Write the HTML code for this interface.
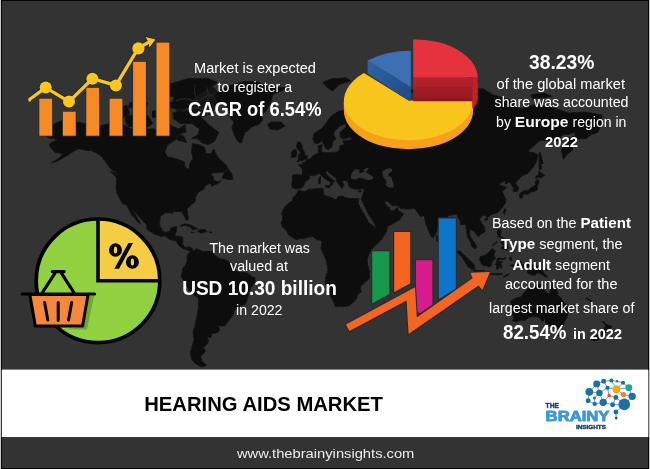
<!DOCTYPE html>
<html>
<head>
<meta charset="utf-8">
<title>Hearing Aids Market</title>
<style>
html,body{margin:0;padding:0;}
body{width:650px;height:469px;overflow:hidden;background:#333333;font-family:"Liberation Sans",sans-serif;}
#page{position:relative;width:650px;height:469px;overflow:hidden;background:#333333;}
#gfx{position:absolute;left:0;top:0;}
</style>
</head>
<body>
<div id="page">
<svg id="gfx" width="650" height="469" viewBox="0 0 650 469">
<defs>
<linearGradient id="redside" x1="0" y1="0" x2="0" y2="1">
<stop offset="0" stop-color="#b8242e"/>
<stop offset="1" stop-color="#8e1820"/>
</linearGradient>
<linearGradient id="blueside" x1="0" y1="0" x2="1" y2="1">
<stop offset="0" stop-color="#2f63a6"/>
<stop offset="1" stop-color="#1f4a84"/>
</linearGradient>
<filter id="soft" x="-2%" y="-2%" width="104%" height="104%"><feGaussianBlur stdDeviation="0.4"/></filter>
</defs>
<rect x="0" y="0" width="650" height="469" fill="#333333"/>
<g filter="url(#soft)">
<g id="map" stroke-linejoin="round">
<path d="M46.0,135.9 L49.2,128.2 L55.7,123.3 L64.5,119.4 L75.0,121.8 L89.4,124.4 L99.1,126.2 L110.4,123.3 L123.3,124.7 L131.4,129.0 L142.8,129.0 L152.6,129.0 L162.3,130.4 L165.6,118.8 L172.1,126.2 L178.6,129.0 L185.1,124.7 L185.9,131.8 L178.6,134.5 L175.3,139.9 L167.2,145.0 L164.8,152.4 L168.0,157.2 L175.3,158.4 L184.2,161.8 L185.1,167.4 L189.1,169.6 L190.0,163.0 L193.2,158.4 L191.6,152.4 L192.4,143.7 L199.8,145.0 L204.7,147.5 L205.5,153.6 L211.2,153.6 L213.7,149.3 L218.6,158.4 L225.1,164.1 L228.1,168.5 L222.7,172.4 L212.9,172.9 L209.6,174.4 L212.9,176.0 L213.7,180.2 L219.4,182.3 L221.1,180.2 L219.4,182.7 L216.1,184.3 L211.2,186.3 L211.2,183.3 L209.6,183.3 L204.7,186.3 L203.9,189.3 L198.1,192.2 L195.7,197.0 L194.9,201.7 L190.8,204.9 L186.7,209.1 L188.3,217.1 L187.8,220.3 L185.9,219.8 L183.8,215.3 L181.8,211.8 L178.6,211.2 L172.9,211.4 L173.2,213.2 L169.6,212.7 L165.6,212.7 L160.4,216.2 L159.9,220.6 L159.4,225.0 L162.3,231.0 L164.8,232.3 L169.6,231.8 L171.2,227.5 L176.9,226.7 L176.1,231.8 L174.5,236.0 L181.8,236.4 L182.9,237.7 L182.6,244.4 L185.1,247.7 L189.1,246.9 L192.4,248.5 L192.4,251.0 L188.3,250.5 L185.9,249.3 L183.4,248.9 L179.4,246.0 L176.1,241.1 L169.6,239.4 L164.8,235.7 L160.7,236.4 L154.2,233.8 L146.9,229.3 L146.9,225.0 L142.0,219.8 L135.5,212.7 L131.9,209.1 L134.7,213.6 L138.8,220.6 L140.4,224.1 L139.1,223.2 L135.5,218.9 L131.4,214.5 L129.8,210.9 L127.9,207.3 L125.8,204.5 L122.3,203.6 L120.1,198.9 L116.8,193.2 L116.0,187.3 L116.8,180.2 L115.7,176.3 L118.4,175.0 L115.2,171.8 L110.4,168.5 L106.3,163.0 L102.3,157.2 L97.5,153.6 L91.1,150.5 L84.6,150.0 L78.2,148.8 L71.7,152.4 L68.5,154.8 L62.1,158.4 L55.7,161.8 L50.8,163.0 L58.9,158.4 L62.9,153.6 L55.7,152.4 L51.6,148.8 L49.2,145.0 L51.6,142.5 L57.3,139.9 L54.0,138.6 L48.4,138.0Z M218.6,132.6 L214.5,141.2 L208.0,144.5 L201.4,142.5 L197.3,138.6 L191.6,138.6 L198.1,134.5 L199.8,129.0 L191.6,123.3 L180.2,123.3 L173.7,118.8 L172.9,112.6 L186.7,111.6 L194.9,114.8 L203.0,118.8 L208.8,124.7 L217.8,131.8Z M128.2,126.2 L147.7,127.0 L152.6,123.3 L147.7,115.7 L139.6,114.2 L126.6,115.7 L124.9,120.3Z M115.2,117.3 L121.7,119.7 L129.8,113.2 L126.6,105.1 L116.0,110.0Z M172.1,102.7 L188.3,104.4 L196.5,95.8 L217.8,82.5 L208.0,78.5 L188.3,78.5 L168.8,84.5 L175.3,93.9Z M168.8,107.8 L188.3,109.4 L188.3,105.4 L168.8,102.1Z M128.2,107.8 L146.1,107.8 L147.7,102.7 L129.8,102.7Z M162.3,97.5 L175.3,95.8 L170.4,86.5 L162.3,90.3Z M152.6,117.3 L167.2,117.3 L167.2,111.0 L152.6,111.0Z M176.9,139.9 L186.7,142.5 L183.4,135.9 L178.6,134.5Z M222.2,177.9 L228.4,179.6 L233.0,179.2 L231.7,173.9 L228.4,169.4 L225.1,171.8 L222.7,176.0Z M109.9,171.1 L115.2,172.9 L117.6,176.3 L114.4,175.4Z M180.2,225.8 L185.1,223.8 L190.0,225.0 L196.5,228.1 L197.8,228.9 L192.4,229.6 L191.6,227.9 L188.3,226.3 L184.2,225.3 L181.8,226.2Z M197.5,231.8 L199.8,229.4 L204.7,229.6 L207.3,231.6 L203.9,232.3 L201.9,233.2Z M191.1,232.1 L194.4,232.5 L193.2,233.0Z M209.3,232.0 L211.9,232.1 L211.2,232.7 L209.3,232.7Z" fill="#0a0a0a" stroke="#0a0a0a" stroke-width="0.6"/>
<path d="M213.0,98.4 L219.8,90.3 L230.4,85.4 L245.0,81.6 L257.0,81.6 L268.0,87.0 L288.0,88.0 L273.0,94.4 L270.5,103.3 L265.5,111.6 L261.0,115.5 L263.0,120.1 L258.0,124.7 L252.0,126.6 L248.0,130.5 L245.0,132.3 L243.0,137.8 L241.5,143.1 L239.1,142.0 L236.2,138.9 L233.8,133.4 L231.8,127.8 L234.2,121.8 L230.9,119.3 L230.4,114.2 L227.5,107.6 L224.6,104.8 L218.8,104.8 L214.9,101.3Z" fill="#0a0a0a" stroke="#0a0a0a" stroke-width="0.6"/>
<path d="M187.4,255.0 L190.3,251.3 L194.3,250.5 L196.3,248.7 L199.1,249.7 L202.3,251.4 L208.7,251.8 L211.8,251.4 L215.0,255.0 L219.8,259.0 L224.6,259.3 L228.6,261.3 L231.0,266.9 L234.2,270.1 L239.8,272.5 L247.0,272.9 L251.8,276.4 L255.0,278.0 L255.0,282.8 L251.0,287.6 L248.6,292.5 L247.8,297.4 L245.4,304.0 L240.6,305.7 L234.2,309.9 L232.9,315.0 L227.8,322.0 L224.6,326.1 L219.8,325.9 L217.6,324.7 L219.8,329.2 L218.2,332.5 L211.8,333.8 L211.0,337.5 L207.1,337.5 L208.7,340.9 L206.3,345.2 L203.1,347.2 L205.5,351.2 L200.7,356.3 L201.5,360.5 L206.3,365.5 L201.5,367.1 L195.9,363.8 L191.9,359.5 L190.3,353.2 L191.9,347.2 L194.3,339.4 L193.0,331.9 L195.1,324.7 L196.7,317.6 L198.3,309.0 L198.6,298.2 L195.1,295.8 L189.5,290.9 L187.1,286.8 L183.9,280.4 L181.0,276.4 L182.3,272.5 L183.1,267.7 L185.5,265.3 L187.1,261.3 L187.1,257.4Z" fill="#0a0a0a" stroke="#0a0a0a" stroke-width="0.6"/>
<path d="M298.5,190.6 L304.4,191.6 L308.9,189.4 L314.9,188.9 L322.5,188.0 L324.0,192.0 L322.8,194.1 L325.5,195.8 L330.8,197.2 L336.1,199.9 L338.4,196.3 L342.1,196.0 L345.2,197.7 L351.2,198.8 L355.8,198.4 L359.1,198.4 L358.0,203.3 L361.1,209.2 L364.0,213.7 L366.2,218.1 L368.7,222.6 L373.7,226.6 L374.5,228.5 L378.7,229.3 L387.4,227.7 L386.2,232.2 L382.0,238.7 L378.7,242.6 L372.0,248.6 L369.5,252.9 L367.0,259.2 L367.8,265.6 L369.5,271.9 L369.5,278.3 L363.6,283.6 L360.3,287.0 L361.1,291.9 L357.3,294.6 L357.0,298.0 L353.5,302.2 L348.2,306.0 L340.6,306.6 L335.3,306.7 L333.8,302.2 L330.8,296.7 L329.3,290.5 L325.5,284.3 L325.5,278.3 L328.1,269.8 L325.9,259.2 L320.9,248.6 L322.0,242.6 L321.7,240.3 L316.4,239.8 L313.4,236.6 L308.9,237.1 L303.6,238.7 L300.6,238.4 L296.1,239.7 L293.1,237.9 L288.5,234.6 L287.0,231.4 L284.8,229.0 L282.2,226.6 L281.0,223.0 L282.8,219.6 L282.5,215.9 L281.8,213.7 L283.3,210.0 L285.5,206.3 L288.5,203.3 L292.3,201.1 L292.8,198.1 L296.8,193.7Z M384.2,271.9 L386.1,279.4 L384.2,284.3 L381.2,293.6 L377.0,294.6 L374.5,291.2 L375.9,286.4 L375.4,281.5 L379.5,279.4 L382.0,275.1Z" fill="#0a0a0a" stroke="#0a0a0a" stroke-width="0.6"/>
<path d="M292.4,187.6 L296.4,189.1 L301.8,188.0 L304.5,184.4 L304.1,182.8 L309.8,178.4 L309.5,175.4 L314.4,175.8 L319.1,173.2 L321.9,176.0 L324.9,178.6 L330.2,181.9 L331.0,185.7 L333.0,183.8 L331.8,182.3 L335.2,181.5 L331.0,178.4 L326.9,174.8 L324.9,171.4 L327.2,170.8 L329.4,173.0 L336.0,178.0 L336.8,181.3 L339.3,185.1 L341.8,188.5 L342.9,185.7 L344.3,185.7 L342.3,181.3 L344.3,180.3 L347.9,181.3 L348.4,184.8 L350.1,187.6 L355.0,188.9 L358.3,189.3 L364.1,188.2 L364.0,191.3 L362.5,196.0 L361.2,198.1 L362.3,201.4 L365.8,208.5 L369.1,215.4 L374.9,223.9 L376.2,230.1 L379.1,230.1 L384.9,228.1 L390.6,224.7 L395.6,222.2 L399.7,219.7 L403.5,213.7 L398.1,210.5 L397.7,207.2 L393.9,210.7 L389.8,210.5 L389.8,207.6 L387.7,207.2 L384.0,201.4 L388.2,201.4 L392.3,205.8 L398.1,205.8 L400.5,208.3 L406.3,209.0 L414.6,208.6 L417.0,211.4 L420.3,216.2 L424.6,215.7 L425.0,219.7 L426.1,224.7 L428.3,230.1 L431.1,236.4 L432.7,237.9 L435.5,234.2 L437.2,228.9 L437.3,225.6 L440.6,223.4 L445.1,218.8 L448.4,215.4 L451.7,214.9 L456.3,214.0 L460.4,221.4 L460.8,224.7 L465.7,223.9 L466.5,229.8 L467.4,237.2 L470.3,241.3 L472.0,246.6 L475.6,248.9 L476.8,247.1 L475.4,243.8 L473.1,240.9 L469.8,235.6 L469.8,229.1 L474.0,231.1 L478.1,236.4 L481.0,234.1 L485.0,231.8 L484.7,227.2 L481.4,223.0 L479.4,218.8 L483.0,215.4 L486.3,215.7 L487.2,217.4 L492.1,214.2 L497.0,212.8 L501.2,209.0 L505.3,203.2 L506.1,199.6 L504.5,196.9 L502.0,191.3 L506.9,187.6 L504.5,186.7 L499.5,184.8 L499.5,183.4 L505.3,180.3 L505.3,183.8 L509.9,181.9 L511.9,185.7 L513.5,187.6 L513.2,191.9 L517.7,191.0 L518.5,187.6 L515.2,182.8 L518.8,178.9 L522.6,175.6 L528.4,173.0 L533.3,166.8 L536.6,161.6 L538.0,155.0 L534.2,152.8 L530.9,152.8 L527.9,151.0 L532.5,147.1 L539.9,140.6 L549.0,140.2 L557.3,141.1 L562.2,135.0 L568.8,134.2 L574.6,132.4 L575.4,136.2 L568.8,138.0 L563.0,144.7 L561.5,150.5 L563.4,159.4 L566.3,155.0 L572.1,150.5 L573.8,143.5 L578.7,138.7 L586.1,138.7 L590.3,135.0 L597.7,132.4 L600.2,127.3 L597.7,126.7 L601.8,125.9 L601.8,114.9 L585.3,112.0 L568.8,113.1 L552.3,107.5 L535.8,104.4 L519.3,109.0 L514.4,101.3 L492.9,94.8 L483.0,88.7 L469.8,89.7 L463.2,93.1 L448.4,96.5 L437.7,101.3 L436.8,106.0 L428.6,104.4 L425.3,114.9 L424.5,107.5 L418.7,102.9 L415.4,109.0 L417.9,116.3 L410.4,114.3 L403.8,116.3 L393.9,116.9 L382.4,120.5 L377.4,116.9 L375.7,122.4 L371.6,126.7 L366.6,128.6 L362.2,127.3 L360.0,121.9 L370.8,122.4 L372.4,119.1 L365.8,115.1 L357.5,112.5 L350.9,109.0 L345.9,109.0 L337.6,112.0 L331.0,116.3 L326.0,123.2 L321.9,128.6 L314.4,133.0 L312.8,138.7 L314.4,143.1 L317.8,143.5 L321.9,140.6 L323.6,143.5 L325.5,148.2 L328.2,149.4 L331.8,147.1 L332.7,141.6 L336.0,138.7 L333.5,135.0 L334.3,131.2 L340.1,125.9 L345.1,123.8 L346.4,126.5 L340.1,132.4 L340.1,136.7 L342.6,138.9 L349.2,137.5 L353.9,138.7 L350.9,139.9 L343.4,140.6 L344.3,144.7 L339.6,145.9 L339.3,150.5 L336.8,151.9 L328.2,152.8 L322.7,152.8 L321.1,150.5 L322.2,144.7 L318.1,145.9 L318.3,149.4 L319.1,152.8 L316.1,153.9 L312.0,156.6 L310.3,158.8 L307.3,159.6 L304.8,162.6 L302.5,162.4 L302.2,164.5 L298.2,165.0 L301.1,167.3 L302.9,169.9 L302.5,175.0 L299.1,175.0 L293.7,174.6 L292.1,176.0 L292.6,179.9 L291.7,184.2Z M267.7,124.6 L271.0,122.1 L281.0,121.9 L285.2,125.9 L277.7,130.1 L270.2,129.1Z M297.1,161.6 L304.5,159.8 L307.0,158.8 L307.3,155.7 L305.0,155.0 L304.2,151.7 L302.3,149.4 L301.8,144.2 L299.8,142.1 L297.8,142.1 L296.4,145.9 L297.8,149.4 L300.2,150.7 L300.4,153.9 L298.4,154.6 L298.4,157.2 L297.5,157.9 L300.2,158.5 L298.4,159.4Z M291.0,157.7 L296.0,156.8 L296.4,152.8 L296.1,150.1 L293.7,149.8 L291.0,152.8 L291.7,155.0Z M519.3,195.0 L520.1,198.3 L522.3,197.8 L522.6,194.1 L525.9,194.1 L528.4,194.1 L530.9,192.1 L534.2,191.3 L537.1,190.0 L537.5,185.7 L539.1,182.3 L538.0,179.1 L535.8,180.9 L535.5,184.8 L531.7,187.6 L530.0,188.5 L528.9,190.2 L524.3,190.4 L521.0,192.6Z M535.8,178.8 L537.5,177.2 L541.1,178.0 L544.9,175.4 L542.9,174.0 L538.8,171.2 L538.0,175.4 L536.1,176.0Z M539.1,169.9 L541.6,168.9 L540.8,162.6 L543.2,163.7 L541.3,157.2 L540.4,152.1 L539.1,153.9 L539.1,161.6Z M503.2,212.8 L504.5,209.0 L506.1,209.3 L504.5,214.5Z M484.2,219.7 L486.3,217.8 L488.0,218.8 L485.7,221.0Z M436.5,235.2 L437.3,235.6 L439.8,238.9 L438.5,241.0 L436.8,241.3 L436.3,238.0Z M322.7,82.6 L331.0,79.0 L345.9,77.8 L350.9,80.8 L339.3,84.5 L332.7,90.8 L327.7,88.0Z M389.8,107.5 L395.6,109.9 L399.7,109.0 L396.4,101.9 L405.5,94.8 L417.9,90.1 L413.7,89.7 L400.5,93.1 L395.6,98.1 L390.6,102.9Z M461.6,82.6 L469.8,75.2 L478.1,80.8 L474.8,86.2Z M530.9,94.8 L544.1,93.1 L552.3,96.5 L540.8,98.1 L532.5,98.1Z M382.4,77.1 L395.6,73.2 L407.1,75.2 L400.5,79.0 L387.3,79.0Z M318.7,179.3 L320.4,176.2 L320.2,179.3 L320.7,180.9 L320.2,183.4 L318.6,183.8 L318.3,180.9Z M325.2,185.7 L330.2,185.1 L329.7,188.2 L326.0,187.0Z M358.0,191.3 L361.7,190.2 L360.8,191.9 L358.3,192.1Z" fill="#0a0a0a" stroke="#0a0a0a" stroke-width="0.6"/>
<path d="M498.0,229.3 L501.2,229.5 L500.8,233.5 L500.0,236.0 L504.1,238.6 L503.3,239.4 L500.3,237.4 L498.4,236.9 L497.5,233.5Z M500.8,248.5 L503.3,245.9 L506.6,244.0 L508.2,247.7 L506.6,250.5 L504.1,249.3Z M500.8,242.7 L502.8,240.6 L504.9,239.4 L506.6,239.9 L506.6,243.2 L504.1,243.5 L502.5,244.9Z M493.1,246.0 L496.7,242.2 L496.7,241.4 L492.6,245.5Z M456.8,250.8 L460.4,251.5 L465.0,255.9 L470.3,260.8 L474.4,264.9 L474.1,269.5 L472.0,269.5 L467.8,266.6 L465.4,262.5 L462.4,257.2 L457.9,253.4Z M473.1,271.2 L475.3,269.9 L478.6,270.8 L482.4,270.5 L485.5,271.3 L488.5,272.7 L488.3,274.3 L482.7,273.6 L477.7,272.8 L475.1,272.2Z M479.4,259.5 L480.2,256.7 L483.2,255.9 L486.0,254.7 L489.3,251.8 L492.1,248.5 L493.9,249.7 L495.9,251.5 L494.2,252.9 L493.9,255.9 L495.9,258.4 L493.6,259.7 L491.8,262.5 L490.9,266.1 L488.5,266.6 L486.0,265.3 L483.5,265.3 L481.4,264.1 L481.0,262.0Z M497.2,258.7 L498.8,257.9 L503.3,258.5 L505.8,257.4 L504.9,259.3 L499.2,259.5 L498.4,261.5 L503.0,261.5 L500.5,263.1 L502.1,266.6 L501.3,268.7 L499.2,265.7 L498.2,269.2 L496.7,269.0 L496.7,265.7 L495.5,264.4 L497.2,260.3Z M490.3,273.5 L492.6,273.6 L495.9,273.8 L499.2,273.8 L502.5,273.6 L502.1,274.5 L497.5,274.8 L494.2,274.6 L490.9,274.6Z M503.3,277.0 L505.8,275.1 L509.6,273.8 L508.2,274.8 L504.9,276.8Z M509.9,257.0 L511.5,257.5 L511.2,260.8 L510.1,259.7Z M510.7,264.9 L514.8,264.9 L514.8,266.2 L510.7,265.9Z M515.7,261.3 L519.0,260.8 L520.9,261.3 L522.3,265.4 L526.4,262.8 L532.2,264.3 L537.9,266.2 L542.1,269.9 L543.4,272.3 L547.8,277.3 L545.4,276.8 L540.4,273.5 L537.1,272.7 L535.5,275.1 L532.2,275.0 L528.0,273.6 L527.2,269.0 L523.1,267.4 L519.0,266.6 L517.3,264.6 L520.3,263.8 L517.3,263.3Z M544.5,269.2 L547.8,269.0 L550.6,266.9 L550.3,268.7 L547.0,270.3Z" fill="#0a0a0a" stroke="#0a0a0a" stroke-width="0.6"/>
<path d="M510.7,300.8 L511.4,307.3 L512.6,313.8 L513.6,319.2 L512.6,320.8 L516.9,322.0 L519.8,320.3 L524.9,320.2 L528.5,317.6 L532.8,316.6 L536.0,316.3 L540.1,318.2 L542.2,321.6 L543.7,320.3 L545.6,318.4 L545.6,322.8 L548.0,323.6 L549.5,326.9 L553.8,328.2 L557.9,328.5 L560.3,326.5 L563.2,325.6 L564.4,321.6 L566.9,317.4 L568.3,311.4 L567.6,306.5 L564.7,303.2 L562.5,300.8 L561.1,297.5 L557.9,295.9 L556.7,289.4 L555.3,288.0 L553.8,288.2 L552.4,282.5 L551.2,285.3 L550.9,289.4 L549.9,293.4 L547.7,293.4 L545.1,291.0 L542.2,289.4 L543.0,284.8 L540.1,284.5 L537.9,283.3 L535.7,284.9 L534.0,289.0 L531.8,289.0 L529.9,287.6 L527.8,288.5 L525.6,291.5 L523.0,294.2 L521.3,296.7 L518.4,297.5 L515.0,298.5 L511.9,300.4Z M555.6,331.3 L560.8,331.6 L560.3,335.4 L557.4,336.0 L556.3,333.7Z M601.7,321.0 L604.5,322.5 L606.6,324.7 L611.8,326.4 L609.6,329.3 L606.3,332.7 L603.7,329.0 L605.4,326.9 L604.9,324.4Z M601.7,330.9 L604.5,332.6 L602.3,335.4 L599.3,337.1 L598.3,339.8 L594.4,340.9 L590.9,339.6 L594.4,336.7 L598.8,334.2Z M586.6,297.8 L591.8,301.1 L590.9,301.4 L586.2,298.5Z" fill="#0a0a0a" stroke="#0a0a0a" stroke-width="0.6"/>
<path d="M350.9,178.4 L350.9,175.0 L352.5,172.0 L355.0,169.3 L358.3,169.3 L360.0,170.3 L358.7,171.6 L360.3,173.2 L363.3,172.0 L365.0,171.4 L362.5,169.9 L366.6,167.9 L369.1,167.9 L367.5,170.3 L365.8,172.0 L368.3,173.4 L373.3,177.0 L373.3,178.9 L369.1,179.9 L365.0,179.5 L362.5,178.0 L359.2,178.0 L355.9,179.5 L353.4,179.5Z M382.4,171.0 L386.5,168.9 L389.8,168.3 L392.3,168.9 L392.0,171.6 L389.0,173.0 L388.2,176.0 L391.5,177.0 L392.3,180.9 L393.6,183.8 L393.6,187.6 L390.6,188.0 L387.3,186.8 L385.7,184.8 L386.5,180.9 L384.0,178.0 L382.4,174.4Z" fill="#333333"/>
<path d="M173,96 L178,89 L186,85 L197,83.5 L207,84 L215,88 L218,94 L216,104 L213,113 L204,117 L192,119 L182,117 L176,111 Z" fill="#0a0a0a" opacity="0.8"/>
<path d="M176,101 Q184,97 191,100 T205,97 T216,101 M183,111 Q190,106 198,108 T211,110 M195,85 Q193,92 197,99 M207,88 Q210,98 206,106 Q205,111 208,115" fill="none" stroke="#333333" stroke-width="1.4" stroke-linecap="round" opacity="0.6"/>
</g>
<!-- white band -->
<rect x="2" y="369.6" width="646" height="67.45" fill="#ffffff"/>

<!-- ===== bar chart icon (top-left) ===== -->
<g fill="#f68b28" stroke="#2b2b2b" stroke-width="1.6" paint-order="stroke fill">
<rect x="39.3" y="98.7" width="12.8" height="37"/>
<rect x="62.9" y="111.7" width="12.8" height="24"/>
<rect x="86.3" y="87.8" width="12.8" height="47.9"/>
<rect x="109.6" y="98.7" width="12.8" height="37"/>
<rect x="133.1" y="61.8" width="12.8" height="73.9"/>
<rect x="156.5" y="42.6" width="12.8" height="93.1"/>
</g>
<g fill="none" stroke="#2a2a2a" stroke-width="5.2" stroke-linejoin="round">
<polyline points="29.5,99.5 45.7,87.6 69,101.6 92.4,78.7 115.9,85.4 138.3,48.1 150,41.5"/>
</g>
<g fill="#2a2a2a">
<circle cx="45.7" cy="87.6" r="7"/><circle cx="69" cy="101.6" r="7"/><circle cx="92.4" cy="78.7" r="7"/><circle cx="115.9" cy="85.4" r="7"/><circle cx="138.4" cy="48.4" r="7"/>
<polygon points="144,35.8 157,39.4 149,49.2 147.5,43"/>
</g>
<g fill="none" stroke="#fac71f" stroke-width="3.3" stroke-linejoin="round" stroke-linecap="butt">
<polyline points="29.5,99.5 45.7,87.6 69,101.6 92.4,78.7 115.9,85.4 138.3,48.1 150,41.5"/>
</g>
<polygon points="28.2,98.6 31.2,98.2 30.6,101.6 28.6,101.4" fill="#fac71f"/>
<polygon points="145.5,37 155.4,39.6 149.3,47.6 148.8,42.6" fill="#fac71f"/>
<g fill="#fac71f">
<circle cx="45.7" cy="87.6" r="6"/>
<circle cx="69" cy="101.6" r="6"/>
<circle cx="92.4" cy="78.7" r="6"/>
<circle cx="115.9" cy="85.4" r="6"/>
<circle cx="138.4" cy="48.4" r="6.1"/>
</g>

<!-- ===== 3D pie (top-right) ===== -->
<g>
<!-- yellow side -->
<path d="M343.8,101.5 L343.8,110.3 A64.7,39 0 0 0 473.2,110.3 L473.2,101.5 Z" fill="#f7a01c"/>
<!-- yellow top -->
<path d="M408.6,100.6 L473.2,100.6 A64.7,39 0 1 1 363.9,73 Z" fill="#f8c51c"/>
<!-- blue side wall -->
<path d="M367.6,60.4 L367.6,73.4 L408.6,100.6 L410.9,100.6 L410.9,87.2 Z" fill="url(#blueside)"/>
<!-- blue top -->
<path d="M410.9,87.2 L367.6,60.4 A64.7,38.4 0 0 1 410.9,50.7 Z" fill="#3b6fb3"/>
<!-- red side -->
<path d="M413.2,77.5 L472.6,77.5 L472.6,101.2 L413.2,101.2 Z" fill="url(#redside)"/>
<path d="M472.2,77.5 L477.7,77.5 L477.9,96 Q477.6,103.5 474,107.6 L472.2,108 Z" fill="#c0202c"/>
<!-- red top -->
<path d="M413.2,77.5 L413.2,39.2 A64.4,38.3 0 0 1 477.6,77.5 Z" fill="#e5303c"/>
</g>

<!-- ===== pie + basket icon (bottom-left) ===== -->
<g>
<circle cx="98" cy="280.8" r="62" fill="#92d240"/>
<path d="M98,280.8 L98,218.8 A62,62 0 0 1 160,280.8 Z" fill="#f5cd45"/>
<circle cx="98" cy="280.8" r="61.8" fill="none" stroke="#000" stroke-width="3.7"/>
<path d="M98,218 L98,280.8 L160.5,280.8" fill="none" stroke="#000" stroke-width="3.6"/>
<!-- percent glyph -->
<g fill="#000" fill-rule="evenodd">
<path d="M109,250.1 a6.5,6.75 0 1 0 13,0 a6.5,6.75 0 1 0 -13,0 Z M113.8,250.1 a1.7,3.5 0 1 1 3.4,0 a1.7,3.5 0 1 1 -3.4,0 Z"/>
<path d="M125.9,261.9 a6.5,6.75 0 1 0 13,0 a6.5,6.75 0 1 0 -13,0 Z M130.7,261.9 a1.7,3.5 0 1 1 3.4,0 a1.7,3.5 0 1 1 -3.4,0 Z"/>
<polygon points="128.4,243 133,243 119,268.7 114.4,268.7"/>
</g>
<!-- basket shadow -->
<path d="M89.3,296 L94,296 L87,329.5 L60,329.5 L83.7,327 Z" fill="#6ea833"/>
<!-- basket body -->
<path d="M29.8,294.5 L88.1,294.5 L82.6,325.9 L35.3,325.9 Z" fill="#f5883a" stroke="#000" stroke-width="3" stroke-linejoin="round"/>
<line x1="22" y1="293.9" x2="94.6" y2="293.9" stroke="#000" stroke-width="3" stroke-linecap="round"/>
<path d="M42.2,292.8 L55,273.2 M74.1,292.8 L61.4,273.2 M52.2,271.6 L64.2,271.6" fill="none" stroke="#000" stroke-width="3.1" stroke-linecap="round"/>
<path d="M44.6,302.4 L47.8,320 M58.2,302.4 L58.2,320.4 M71.7,302.4 L68.5,320" fill="none" stroke="#000" stroke-width="3" stroke-linecap="round"/>
</g>

<!-- ===== bars + zigzag arrow (bottom-right) ===== -->
<g>
<g stroke="#2a2a2a" stroke-width="2.2" paint-order="stroke fill" stroke-linejoin="miter">
<polygon points="372.2,251.3 389.4,251.3 389.4,294 372.2,303.5" fill="#12974a"/>
<polygon points="394.2,231.9 410.2,231.9 410.2,283.5 394.2,292" fill="#f46524"/>
<polygon points="415.9,260.2 432.4,260.2 432.4,304.5 420,313 415.9,312" fill="#d81f8e"/>
<polygon points="438.8,218.4 455.8,218.4 455.8,288.5 438.8,299" fill="#0b76cc"/>
<polygon points="345.9,324.4 415,287.3 416.8,317.4 472.6,278.3 470.5,272.8 489.9,271.9 482.4,289.9 478.6,285.6 408.6,334 406.6,300.6 349.5,330.9" fill="#f46524"/>
</g>
</g>

<!-- ===== logo ===== -->
<g id="logo">
<g stroke="#2a7db0" stroke-width="0.7" fill="none">
<path d="M596.7,383.9 L603.7,381.3 L611.4,380.5 L617.1,381.3 L623,382.7 L628.8,387.8 L632.2,396.3 L624.3,404.4 L615.9,412.1 L616.2,418.1"/>
<path d="M596.7,383.9 L589.3,391.8 L588.1,400.8 L594.7,403.9 L603.2,402.3 L612.6,404.8 L624.3,404.4"/>
<path d="M596.7,383.9 L599.4,392.9 L594.5,398 L594.7,403.9"/>
<path d="M603.7,381.3 L607.5,387.8 L599.4,392.9 L603.2,402.3"/>
<path d="M607.5,387.8 L616.4,389.2 L623.5,394.6 L632.2,396.3"/>
<path d="M607.5,387.8 L609.2,395.5 L603.2,402.3"/>
<path d="M609.2,395.5 L615.9,397.4 L612.6,404.8"/>
<path d="M616.4,389.2 L628.8,387.8"/>
<path d="M615.9,397.4 L624.3,404.4"/>
<path d="M611.4,380.5 L616.4,389.2 L623,382.7"/>
<path d="M589.3,391.8 L599.4,392.9"/>
</g>
<g fill="#1b6fa6">
<circle cx="596.7" cy="383.9" r="3.46"/>
<circle cx="603.7" cy="381.3" r="2.48"/>
<circle cx="611.4" cy="380.5" r="2.05"/>
<circle cx="617.1" cy="381.3" r="1.19"/>
<circle cx="623" cy="382.7" r="2.05"/>
<circle cx="589.3" cy="391.8" r="3.89"/>
<circle cx="599.4" cy="392.9" r="3.24"/>
<circle cx="607.5" cy="387.8" r="2.16"/>
<circle cx="632.2" cy="396.3" r="3.67"/>
<circle cx="588.1" cy="400.8" r="2.48"/>
<circle cx="594.5" cy="398" r="1.51"/>
<circle cx="594.7" cy="403.9" r="2.16"/>
<circle cx="603.2" cy="402.3" r="3.67"/>
<circle cx="615.9" cy="397.4" r="2.48"/>
<circle cx="612.6" cy="404.8" r="2.48"/>
<circle cx="624.3" cy="404.4" r="5.83"/>
<circle cx="615.9" cy="412.1" r="2.48"/>
</g>
<circle cx="616.2" cy="418.1" r="1.30" fill="#1c4a6e"/>
<circle cx="616.4" cy="389.2" r="3.89" fill="#f5a81c"/>
<circle cx="628.8" cy="387.8" r="3.46" fill="#1aa890"/>
<circle cx="609.2" cy="395.5" r="1.73" fill="#e04a32"/>
<circle cx="623.5" cy="394.6" r="2.70" fill="#f08030"/>
</g>

</g>
<!-- frame -->
<rect x="0" y="0" width="1" height="469" fill="#cccccc"/>
<rect x="1" y="0" width="1" height="469" fill="#050505"/>
<rect x="648" y="0" width="1" height="469" fill="#050505"/>
<rect x="649" y="0" width="1" height="469" fill="#c4c4c4"/>
<rect x="1" y="0" width="648" height="1" fill="#050505"/>
<rect x="1" y="468" width="648" height="1" fill="#050505"/>
<rect x="1" y="370" width="1" height="67" fill="#3a3a3a"/>
<rect x="648" y="370" width="1" height="67" fill="#6a6a6a"/>
</svg>

<svg id="txt" width="650" height="469" viewBox="0 0 650 469" style="position:absolute;left:0;top:0;will-change:transform;filter:blur(0.4px)" font-family="Liberation Sans, sans-serif">
<text id="L0" x="194.08" y="73.40" fill="#ffffff" textLength="121.82" lengthAdjust="spacingAndGlyphs" xml:space="preserve"><tspan font-size="14.0">Market is expected</tspan></text>
<text id="L1" x="217.48" y="91.80" fill="#ffffff" textLength="74.56" lengthAdjust="spacingAndGlyphs" xml:space="preserve"><tspan font-size="14.0">to register a</tspan></text>
<text id="L2" x="188.08" y="116.40" fill="#ffffff" textLength="133.40" lengthAdjust="spacingAndGlyphs" xml:space="preserve"><tspan font-size="19.6" font-weight="bold">CAGR of 6.54%</tspan></text>
<text id="L3" x="529.02" y="68.50" fill="#ffffff" textLength="65.40" lengthAdjust="spacingAndGlyphs" xml:space="preserve"><tspan font-size="19.6" font-weight="bold">38.23%</tspan></text>
<text id="L4" x="496.52" y="88.90" fill="#ffffff" textLength="128.50" lengthAdjust="spacingAndGlyphs" xml:space="preserve"><tspan font-size="14.0">of the global market</tspan></text>
<text id="L5" x="494.58" y="106.80" fill="#ffffff" textLength="133.84" lengthAdjust="spacingAndGlyphs" xml:space="preserve"><tspan font-size="14.0">share was accounted</tspan></text>
<text id="L6" x="496.08" y="127.10" fill="#ffffff" textLength="130.34" lengthAdjust="spacingAndGlyphs" xml:space="preserve"><tspan font-size="14.0">by </tspan><tspan font-size="15.5" font-weight="bold">Europe</tspan><tspan font-size="14.0"> region in</tspan></text>
<text id="L7" x="545.04" y="147.30" fill="#ffffff" textLength="32.88" lengthAdjust="spacingAndGlyphs" xml:space="preserve"><tspan font-size="14.4" font-weight="bold">2022</tspan></text>
<text id="L8" x="209.50" y="252.70" fill="#ffffff" textLength="100.42" lengthAdjust="spacingAndGlyphs" xml:space="preserve"><tspan font-size="14.0">The market was</tspan></text>
<text id="L9" x="230.04" y="270.70" fill="#ffffff" textLength="57.98" lengthAdjust="spacingAndGlyphs" xml:space="preserve"><tspan font-size="14.0">valued at</tspan></text>
<text id="L10" x="182.14" y="295.10" fill="#ffffff" textLength="154.74" lengthAdjust="spacingAndGlyphs" xml:space="preserve"><tspan font-size="19.6" font-weight="bold">USD 10.30 billion</tspan></text>
<text id="L11" x="236.10" y="315.40" fill="#ffffff" textLength="46.38" lengthAdjust="spacingAndGlyphs" xml:space="preserve"><tspan font-size="14.0">in 2022</tspan></text>
<text id="L12" x="492.06" y="228.10" fill="#ffffff" textLength="138.88" lengthAdjust="spacingAndGlyphs" xml:space="preserve"><tspan font-size="14.0">Based on the </tspan><tspan font-size="14.8" font-weight="bold">Patient</tspan></text>
<text id="L13" x="500.94" y="249.10" fill="#ffffff" textLength="121.56" lengthAdjust="spacingAndGlyphs" xml:space="preserve"><tspan font-size="14.8" font-weight="bold">Type</tspan><tspan font-size="14.0"> segment, the</tspan></text>
<text id="L14" x="512.52" y="270.00" fill="#ffffff" textLength="97.48" lengthAdjust="spacingAndGlyphs" xml:space="preserve"><tspan font-size="14.8" font-weight="bold">Adult</tspan><tspan font-size="14.0"> segment</tspan></text>
<text id="L15" x="505.04" y="288.90" fill="#ffffff" textLength="112.44" lengthAdjust="spacingAndGlyphs" xml:space="preserve"><tspan font-size="14.0">accounted for the</tspan></text>
<text id="L16" x="489.02" y="313.30" fill="#ffffff" textLength="145.46" lengthAdjust="spacingAndGlyphs" xml:space="preserve"><tspan font-size="14.0">largest market share of</tspan></text>
<text id="L17" x="503.00" y="339.40" fill="#ffffff" textLength="63.48" lengthAdjust="spacingAndGlyphs" xml:space="preserve"><tspan font-size="19.6" font-weight="bold">82.54%</tspan></text>
<text id="L18" x="573.06" y="339.40" fill="#ffffff" textLength="48.86" lengthAdjust="spacingAndGlyphs" xml:space="preserve"><tspan font-size="14.4" font-weight="bold">in 2022</tspan></text>
<text id="L19" x="144.16" y="410.60" fill="#000000" textLength="238.84" lengthAdjust="spacingAndGlyphs" xml:space="preserve"><tspan font-size="19.8" font-weight="bold">HEARING AIDS MARKET</tspan></text>
<text id="L20" x="236.96" y="458.00" fill="#ececec" textLength="177.42" lengthAdjust="spacingAndGlyphs" xml:space="preserve"><tspan font-size="13.0">www.thebrainyinsights.com</tspan></text>
<text id="L21" stroke="#1c3f6e" stroke-width="0.45" stroke-linejoin="round" x="545.60" y="407.90" fill="#1c3f6e" textLength="13.30" lengthAdjust="spacingAndGlyphs" xml:space="preserve"><tspan font-size="7.2" font-weight="bold">THE</tspan></text>
<text id="L22" stroke="#3d98d4" stroke-width="0.9" stroke-linejoin="round" x="545.60" y="421.20" fill="#3d98d4" textLength="63.88" lengthAdjust="spacingAndGlyphs" xml:space="preserve"><tspan font-size="14.4" font-weight="bold">BRAINY</tspan></text>
<text id="L23" stroke="#1c3f6e" stroke-width="0.4" stroke-linejoin="round" x="576.02" y="429.00" fill="#1c3f6e" textLength="29.96" lengthAdjust="spacingAndGlyphs" xml:space="preserve"><tspan font-size="5.7" font-weight="bold">INSIGHTS</tspan></text>
</svg>
</div>
</body>
</html>
